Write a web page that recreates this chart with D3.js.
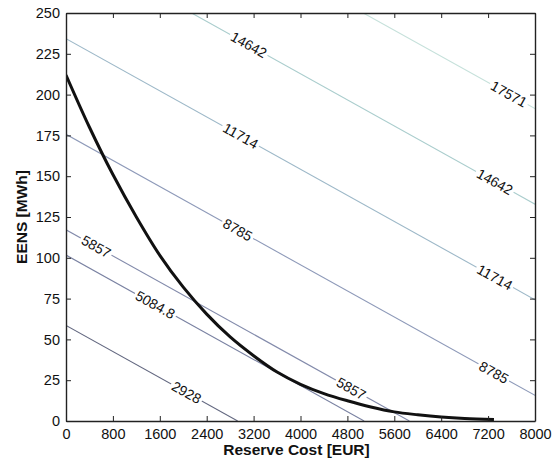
<!DOCTYPE html>
<html>
<head>
<meta charset="utf-8">
<script src="https://cdn.jsdelivr.net/npm/d3@7"></script>
<style>
  body { margin: 0; background: #fff; }
  text { font-family: "Liberation Sans", Arial, sans-serif; }
</style>
</head>
<body>
<div id="chart"></div>
<script>
// reserve cost vs EENS curve
var costX = [0, 400, 800, 1200, 1600, 2000, 2400, 2800, 3200, 3600, 4000, 4400, 4800, 5200, 5600, 6000, 6400, 6800, 7300];
var eensY = [212, 180, 151, 125, 101.5, 82, 65.5, 51.5, 40, 30, 22.5, 16.8, 12.4, 8.6, 5.6, 3.8, 2.4, 1.5, 0.9];

// iso-cost lines: cost + voll * eens = level
var voll = 50;
var levels = [2928, 5084.8, 5857, 8785, 11714, 14642, 17571];
var levelColors = ['#636880', '#7a82a2', '#838bab', '#8e9ab9', '#9db8c8', '#aacdcd', '#c6e1db'];

// where the contour labels sit (level, reserve cost)
var labelLevels = [14642, 17571, 11714, 14642, 8785, 11714, 5857, 5084.8, 2928, 8785, 5857];
var labelX = [3118, 7554, 2980, 7314, 2929, 7314, 514, 1524, 2055, 7297, 4865];

var xTicks = [0, 800, 1600, 2400, 3200, 4000, 4800, 5600, 6400, 7200, 8000];
var yTicks = [0, 25, 50, 75, 100, 125, 150, 175, 200, 225, 250];

var W = 560, H = 461;
var margin = {top: 13, right: 25, bottom: 40, left: 66};

var svg = d3.select('#chart')
  .append('svg')
    .attr('width', W)
    .attr('height', H);

var x = d3.scaleLinear().domain([0, 8000]).range([margin.left, W - margin.right]);
var y = d3.scaleLinear().domain([0, 250]).range([H - margin.bottom, margin.top]);

// clip region
svg.append('clipPath').attr('id', 'plotclip')
  .append('rect')
    .attr('x', x(0)).attr('y', y(250))
    .attr('width', x(8000) - x(0)).attr('height', y(0) - y(250));

var plot = svg.append('g').attr('clip-path', 'url(#plotclip)');

// contour lines
function lineEnds(c) {
  var x0 = 0, y0 = c / voll;
  if (y0 > 250) { y0 = 250; x0 = c - voll * 250; }
  var x1 = 8000, y1 = (c - 8000) / voll;
  if (y1 < 0) { y1 = 0; x1 = c; }
  return [[x0, y0], [x1, y1]];
}

levels.forEach(function(c, i) {
  var e = lineEnds(c);
  plot.append('line')
    .attr('x1', x(e[0][0])).attr('y1', y(e[0][1]))
    .attr('x2', x(e[1][0])).attr('y2', y(e[1][1]))
    .attr('stroke', levelColors[i])
    .attr('stroke-width', 1.1);
});

// contour labels
var angle = Math.atan2(y(0) - y(1 / voll), x(1) - x(0)) * 180 / Math.PI;

labelLevels.forEach(function(c, i) {
  var lx = labelX[i], ly = (c - lx) / voll;
  var g = plot.append('g')
    .attr('transform', 'translate(' + x(lx) + ',' + y(ly) + ') rotate(' + angle + ')');
  var bg = g.append('rect').attr('fill', '#fff');
  var t = g.append('text')
    .text(String(c))
    .attr('text-anchor', 'middle')
    .attr('dy', '0.35em')
    .attr('font-size', '14px')
    .attr('fill', '#111');
  var w = t.node().getComputedTextLength();
  bg.attr('x', -w / 2 - 2).attr('y', -6).attr('width', w + 4).attr('height', 12);
});

// EENS curve
var pts = costX.map(function(c, i) { return [c, eensY[i]]; });
plot.append('path')
  .datum(pts)
  .attr('fill', 'none')
  .attr('stroke', '#111')
  .attr('stroke-width', 3)
  .attr('d', d3.line()
    .x(function(d) { return x(d[0]); })
    .y(function(d) { return y(d[1]); })
    .curve(d3.curveCatmullRom.alpha(0.5)));

// axes (ticks inward, box on)
var tickLen = 5;
var fmt = d3.format('d');
var axBottom = svg.append('g').attr('transform', 'translate(0,' + y(0) + ')')
  .call(d3.axisBottom(x).tickValues(xTicks).tickFormat(fmt).tickSizeInner(-tickLen).tickSizeOuter(0).tickPadding(8));
var axLeft = svg.append('g').attr('transform', 'translate(' + x(0) + ',0)')
  .call(d3.axisLeft(y).tickValues(yTicks).tickFormat(fmt).tickSizeInner(-tickLen).tickSizeOuter(0).tickPadding(6));
var axTop = svg.append('g').attr('transform', 'translate(0,' + y(250) + ')')
  .call(d3.axisTop(x).tickValues(xTicks).tickSizeInner(-tickLen).tickSizeOuter(0).tickFormat(''));
var axRight = svg.append('g').attr('transform', 'translate(' + x(8000) + ',0)')
  .call(d3.axisRight(y).tickValues(yTicks).tickSizeInner(-tickLen).tickSizeOuter(0).tickFormat(''));

[axBottom, axLeft, axTop, axRight].forEach(function(a) {
  a.select('.domain').attr('stroke', '#222').attr('stroke-width', 1.4);
  a.selectAll('.tick line').attr('stroke', '#222');
  a.selectAll('.tick text')
    .attr('font-family', '"Liberation Sans", Arial, sans-serif')
    .attr('font-size', '14.5px')
    .attr('fill', '#111');
});

// axis titles
svg.append('text')
  .text('Reserve Cost [EUR]')
  .attr('x', (x(0) + x(8000)) / 2 - 4)
  .attr('y', H - 6)
  .attr('text-anchor', 'middle')
  .attr('font-weight', 'bold')
  .attr('font-size', '15.5px')
  .attr('fill', '#111');

svg.append('text')
  .text('EENS [MWh]')
  .attr('transform', 'translate(27,' + (y(0) + y(250)) / 2 + ') rotate(-90)')
  .attr('text-anchor', 'middle')
  .attr('font-weight', 'bold')
  .attr('font-size', '15.5px')
  .attr('fill', '#111');
</script>
</body>
</html>
